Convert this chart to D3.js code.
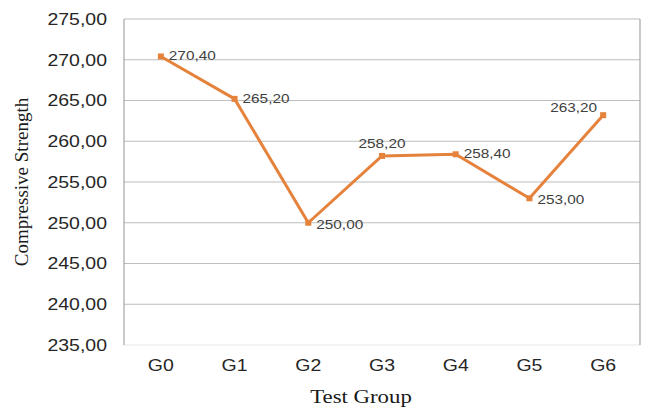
<!DOCTYPE html>
<html><head><meta charset="utf-8">
<script src="https://cdn.jsdelivr.net/npm/d3@7"></script>
<style>html,body{margin:0;padding:0;background:#fff;}</style>
</head><body>
<svg id="c" width="646" height="408"></svg>
<script>
const categories = ["G0","G1","G2","G3","G4","G5","G6"];
const values = [270.40, 265.20, 250.00, 258.20, 258.40, 253.00, 263.20];
const yTicks = [235,240,245,250,255,260,265,270,275];
// label placement per point: [dx, dy, anchor]
const labelPos = [[8,4,"start"],[8,4,"start"],[8,6,"start"],[0,-8,"middle"],[8,4,"start"],[8,6,"start"],[-6,-3,"end"]];

const svg = d3.select("#c");
const m = {l:124, r:6, t:19, b:63};
const W = 646, H = 408;
const x = d3.scaleBand().domain(categories).range([m.l, W-m.r]);
const y = d3.scaleLinear().domain([235,275]).range([H-m.b, m.t]);
const fmt = v => d3.format(".2f")(v).replace(".", ",");
const stretch = (sel, k) => sel.each(function(){
  const len = this.getComputedTextLength();
  d3.select(this).attr("textLength", len*k).attr("lengthAdjust","spacingAndGlyphs");
});

// gridlines
svg.append("g").selectAll("line").data(yTicks).join("line")
  .attr("x1", m.l).attr("x2", W-m.r)
  .attr("y1", d=>y(d)).attr("y2", d=>y(d))
  .attr("stroke", d=> d===235 ? "#e6e6e6" : "#bdbdbd").attr("stroke-width",1);
// frame sides
svg.append("line").attr("x1",m.l).attr("x2",m.l).attr("y1",m.t).attr("y2",H-m.b).attr("stroke","#a6a6a6").attr("stroke-width",1.2);
svg.append("line").attr("x1",W-m.r).attr("x2",W-m.r).attr("y1",m.t).attr("y2",H-m.b).attr("stroke","#a6a6a6").attr("stroke-width",1.2);

// y axis labels
const ya = svg.append("g").attr("transform",`translate(${m.l},0)`)
  .call(d3.axisLeft(y).tickValues(yTicks).tickFormat(fmt).tickSize(0).tickPadding(17));
ya.select(".domain").remove();
ya.selectAll("text").attr("font-family","Liberation Sans, Arial, sans-serif").attr("font-size",16.5).attr("fill","#262626").call(stretch,1.18);

// x axis labels
const xa = svg.append("g").attr("transform",`translate(0,${H-m.b})`)
  .call(d3.axisBottom(x).tickSize(0).tickPadding(14));
xa.select(".domain").remove();
xa.selectAll("text").attr("font-family","Liberation Sans, Arial, sans-serif").attr("font-size",16.5).attr("fill","#262626").call(stretch,1.18);

// line
const cx = d => x(d) + x.bandwidth()/2;
svg.append("path").datum(values)
  .attr("d", d3.line().x((d,i)=>cx(categories[i])).y(d=>y(d)))
  .attr("fill","none").attr("stroke","#E5823C").attr("stroke-width",3).attr("stroke-linejoin","round");
svg.append("g").selectAll("rect").data(values).join("rect")
  .attr("x",(d,i)=>cx(categories[i])-3).attr("y",d=>y(d)-3)
  .attr("width",6).attr("height",6).attr("fill","#E5823C");

// data labels
svg.append("g").selectAll("text").data(values).join("text")
  .attr("x",(d,i)=>cx(categories[i])+labelPos[i][0])
  .attr("y",(d,i)=>y(d)+labelPos[i][1])
  .attr("text-anchor",(d,i)=>labelPos[i][2])
  .attr("font-family","Liberation Sans, Arial, sans-serif").attr("font-size",13).attr("fill","#404040")
  .text(d=>fmt(d)).call(stretch,1.18);

// axis titles
svg.append("text").attr("x",361).attr("y",403).attr("text-anchor","middle")
  .attr("font-family","Liberation Serif, Times New Roman, serif").attr("font-size",19).attr("fill","#1a1a1a").text("Test Group").call(stretch,1.2);
svg.append("text").attr("transform",`translate(28,${(m.t+H-m.b)/2}) rotate(-90)`).attr("text-anchor","middle")
  .attr("font-family","Liberation Serif, Times New Roman, serif").attr("font-size",19).attr("fill","#1a1a1a").text("Compressive Strength");
</script>
</body></html>
